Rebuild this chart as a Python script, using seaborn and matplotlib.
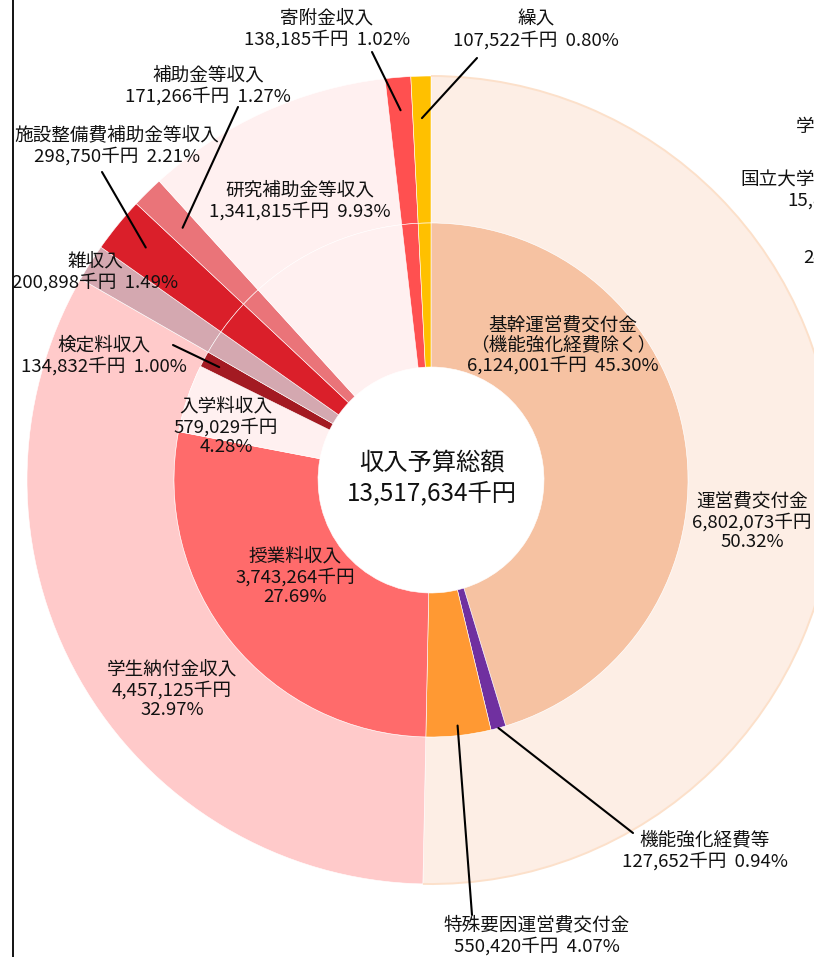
import numpy as np
import pandas as pd
import matplotlib
matplotlib.use("Agg")
import matplotlib.pyplot as plt
from matplotlib.patches import Arc
import seaborn as sns

# outer ring (大分類)
outer_names = ["運営費交付金", "学生納付金収入", "雑収入", "施設整備費補助金等収入",
               "補助金等収入", "研究補助金等収入", "寄附金収入", "繰入"]
outer_values = [6802073, 4457125, 200898, 298750, 171266, 1341815, 138185, 107522]
outer_colors = ["#FDEEE5", "#FFCACA", "#D4A8B0", "#DA1F2A",
                "#EA7479", "#FFF0F0", "#FF5050", "#FFC000"]

# inner ring (内訳)
inner_names = ["基幹運営費交付金", "機能強化経費等", "特殊要因運営費交付金",
               "授業料収入", "入学料収入", "検定料収入", "雑収入", "施設整備費補助金等収入",
               "補助金等収入", "研究補助金等収入", "寄附金収入", "繰入"]
inner_values = [6124001, 127652, 550420, 3743264, 579029, 134832,
                200898, 298750, 171266, 1341815, 138185, 107522]
inner_colors = ["#F6C2A2", "#7030A0", "#FF9933", "#FF6B6B", "#FFF0F0", "#A31A22",
                "#D4A8B0", "#DA1F2A", "#EA7479", "#FFF0F0", "#FF5050", "#FFC000"]

total = sum(outer_values)

sns.set_theme(style="white")
plt.rcParams['font.family'] = ['Noto Sans CJK JP', 'DejaVu Sans']

# pixel layout of the reference
CX, CY = 431, 480
R_OUT, R_MID, R_IN = 404, 257, 113


def px(x, y):
    """pixel position -> data coords (pie centre at origin)"""
    return x - CX, CY - y


def mid_point(values, idx, r):
    """point at radius r on the middle angle of wedge idx (clockwise from top)"""
    cum = np.cumsum([0] + list(values))
    frac = (cum[idx] + cum[idx + 1]) / 2 / sum(values)
    ang = np.deg2rad(90 - frac * 360)
    return r * np.cos(ang), r * np.sin(ang)


def pct(v):
    return "{:.2f}%".format(v / total * 100)


def yen(v):
    return "{:,}千円".format(v)


fig = plt.figure(figsize=(8.14, 9.57), dpi=100)
ax = fig.add_axes([0, 0, 1, 1])

ax.pie(outer_values, radius=R_OUT, colors=outer_colors, startangle=90, counterclock=False,
       wedgeprops=dict(width=R_OUT - R_MID, edgecolor="white", linewidth=0.4))
ax.pie(inner_values, radius=R_MID, colors=inner_colors, startangle=90, counterclock=False,
       wedgeprops=dict(width=R_MID - R_IN, edgecolor="white", linewidth=0.4))

# faint outline along the outer edge of 運営費交付金
end_ang = 90 - outer_values[0] / total * 360
ax.add_patch(Arc((0, 0), 2 * R_OUT, 2 * R_OUT, theta1=end_ang, theta2=90,
                 edgecolor="#FCE0CA", linewidth=1.4))

# pie() resets the limits, so set them afterwards
ax.set_xlim(-CX, 814 - CX)
ax.set_ylim(-(957 - CY), CY)
ax.set_aspect("equal")
ax.axis("off")

fs = 13.4
tc = "#111111"

# centre
ax.text(*px(432, 478), "収入予算総額\n{:,}千円".format(total), ha="center", va="center",
        fontsize=17.5, color=tc, linespacing=1.2)

# labels sitting on the wedges
inside = [
    (563, 346, "基幹運営費交付金\n（機能強化経費除く）\n{}  {}".format(yen(inner_values[0]), pct(inner_values[0]))),
    (752, 522, "運営費交付金\n{}\n{}".format(yen(outer_values[0]), pct(outer_values[0]))),
    (295, 577, "授業料収入\n{}\n{}".format(yen(inner_values[3]), pct(inner_values[3]))),
    (172, 690, "学生納付金収入\n{}\n{}".format(yen(outer_values[1]), pct(outer_values[1]))),
    (226, 427, "入学料収入\n{}\n{}".format(yen(inner_values[4]), pct(inner_values[4]))),
    (300, 201, "研究補助金等収入\n{}  {}".format(yen(inner_values[9]), pct(inner_values[9]))),
    (95, 272, "雑収入\n{}  {}".format(yen(inner_values[6]), pct(inner_values[6]))),
]
for x, y, s in inside:
    ax.text(*px(x, y), s, ha="center", va="center", fontsize=fs, color=tc, linespacing=1.12)

# labels outside with leader lines: (ring values, index, radius, text pos, line start)
leaders = [
    (inner_values, 10, 371, (327, 29), (372, 52)),
    (inner_values, 11, 362, (536, 30), (477, 58)),
    (inner_values, 8, 354, (208, 86), (238, 107)),
    (inner_values, 7, 368, (117, 146), (102, 172)),
    (inner_values, 5, 240, (104, 356), (173, 345)),
    (inner_values, 1, 257, (705, 851), (633, 833)),
    (inner_values, 2, 247, (537, 936), (472, 915)),
]
for vals, i, r, (tx, ty), (lx, ly) in leaders:
    ex, ey = mid_point(vals, i, r)
    sx, sy = px(lx, ly)
    ax.plot([sx, ex], [sy, ey], color="black", linewidth=1.5)
    ax.text(*px(tx, ty), "{}\n{}  {}".format(inner_names[i], yen(vals[i]), pct(vals[i])),
            ha="center", va="center", fontsize=fs, color=tc, linespacing=1.12)

# labels of the neighbouring chart, cut off by the frame
for x, y, s in [(796, 127, "学"), (740, 181, "国立大学"), (787, 201, "15,8"), (803, 258, "24")]:
    ax.text(*px(x, y), s, ha="left", va="center", fontsize=fs, color=tc)

ax.axvline(12.5 - CX, color="black", linewidth=1.3)

plt.savefig("out.png", dpi=100)
